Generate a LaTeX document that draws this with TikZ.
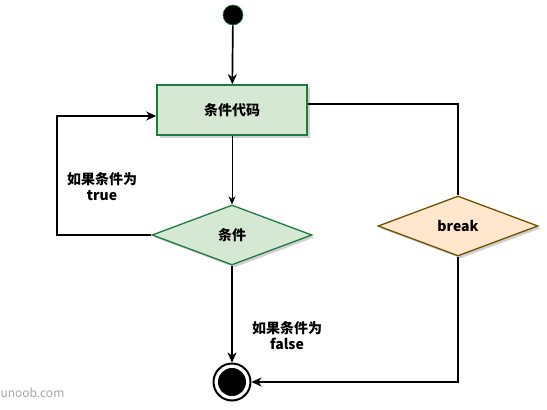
\documentclass[tikz,border=0pt]{standalone}
\usepackage{fontspec}
\setmainfont{Noto Sans CJK SC}
\usetikzlibrary{shapes.geometric,arrows.meta,shadows}
\definecolor{greenfill}{HTML}{D5E8D4}
\definecolor{greenline}{HTML}{1E7B3E}
\definecolor{orangefill}{HTML}{FFE6CC}
\definecolor{brownline}{HTML}{6F5300}
\begin{document}
\begin{tikzpicture}[
        x=1pt, y=-1pt,
        font=\fontsize{14}{16}\selectfont\bfseries,
        shade/.style={drop shadow={shadow xshift=2.5pt, shadow yshift=-2.5pt, opacity=0.3, fill=black!60}},
        process/.style={rectangle, draw=greenline, line width=1.5pt, fill=greenfill, minimum width=150pt, minimum height=50pt, shade},
        decision/.style={diamond, draw=greenline, line width=1.3pt, fill=greenfill, minimum width=160pt, minimum height=60pt, inner sep=0pt, shade},
        flow/.style={-{Stealth[length=10pt, width=9pt, inset=3pt]}, line width=1.7pt},
        thinflow/.style={-{Stealth[length=8pt, width=7pt, inset=2.5pt]}, line width=0.8pt},
        label/.style={align=center}
    ]
    \useasboundingbox (0,0) rectangle (547,410);

    % States
    \node (start) at (233,15) [circle, fill=black, draw=greenline, line width=0.6pt, minimum size=20pt, inner sep=0pt] {};
    \node (stop) at (232,382) [circle, draw=black, line width=2pt, minimum size=37pt, inner sep=0pt] {};
    \fill (stop.center) circle (14);

    % Blocks
    \node (code) at (232,110) [process] {条件代码};
    \node (cond) at (232,235) [decision] {条件};
    \node (brk) at (458,226) [decision, draw=brownline, fill=orangefill] {break};

    % Connectors
    \draw[flow] (start) -- (code);
    \draw[thinflow] (code) -- (cond);
    \draw[flow] (cond.west) -- (57,235) |- ([yshift=-6pt]code.west);
    \draw[line width=1.7pt] ([yshift=6pt]code.east) -| (brk.north);
    \draw[flow] (brk.south) |- (stop.east);
    \draw[flow] (cond.south) -- (stop.north);

    % Annotations
    \node (truelbl) at (102,187) [label] {如果条件为\\true};
    \node (falselbl) at (287,336) [label] {如果条件为\\false};
    \node (mark) at (-3,393) [anchor=west, font=\fontsize{12}{14}\selectfont, text=black!35] {unoob.com};

    \end{tikzpicture}
\end{document}
